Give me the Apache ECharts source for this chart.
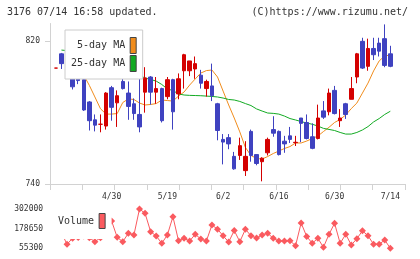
<!DOCTYPE html>
<html>
<head>
<meta charset="utf-8">
<script src="https://cdn.jsdelivr.net/npm/echarts@6.0.0/dist/echarts.min.js"></script>
<style>
  html, body { margin: 0; padding: 0; background: #fff; }
  #chart { width: 420px; height: 259px; }
</style>
</head>
<body>
<div id="chart"></div>
<script>
// trading days, 3176, 4/15 - 7/14
var dates = ['4/15','4/16','4/17','4/18','4/21','4/22','4/23','4/24','4/25','4/28',
  '4/30','5/1','5/2','5/7','5/8','5/9','5/12','5/13','5/14','5/16',
  '5/19','5/20','5/21','5/22','5/23','5/26','5/27','5/28','5/29','5/30',
  '6/2','6/3','6/4','6/5','6/6','6/9','6/10','6/11','6/12','6/13',
  '6/16','6/17','6/18','6/19','6/20','6/23','6/24','6/25','6/26','6/27',
  '6/30','7/1','7/2','7/3','7/4','7/7','7/8','7/9','7/10','7/11','7/14'];

var openPrices = [805, 813, 809, 802, 801, 798.5, 786, 776, 773.5, 772.5,
  794, 785.5, 797.5, 791, 785, 779, 791.5, 800, 791.5, 793.5,
  789, 798.5, 790.5, 803.5, 803.5, 804.5, 801, 793.5, 795, 785,
  765, 766, 755.5, 756, 747.5, 769.5, 756.5, 752.5, 757.5, 770.5,
  769.5, 764, 767, 763.2, 777, 774.5, 766.5, 765.5, 781, 780.5,
  792.5, 775.5, 785, 787.5, 800, 820, 806, 816, 819, 821.5, 813];
var closePrices = [805, 807.5, 801.5, 794.5, 798, 781.5, 775.5, 773, 773.5, 791,
  783, 789.5, 793.5, 783.5, 779.5, 772, 799.5, 791.5, 793.5, 775.5,
  798.5, 780.5, 799, 812.5, 809, 807.5, 796.5, 797.5, 789.5, 770,
  763.5, 762.5, 748.5, 761.5, 755.5, 756, 751.5, 754.5, 765, 768.5,
  756.5, 762.5, 765, 763.4, 774, 765.5, 760, 777, 777.5, 791,
  779.5, 777, 779, 793.5, 813, 805, 816, 812.5, 814.5, 806.5, 806];
var lowPrices = [805, 804.5, 800, 793, 796, 781, 770, 769.5, 769, 770.5,
  775.5, 772, 793, 776, 776, 769, 780, 784.5, 785, 774.5,
  787.5, 770.5, 787.5, 793.5, 800.5, 799, 793.5, 789, 786.5, 764.5,
  751, 759.5, 748, 753.5, 744.5, 752.5, 750.5, 741.5, 756, 766.5,
  756, 757.5, 763, 761.3, 763.5, 765, 759.5, 765, 776.5, 778.5,
  779, 772, 776.5, 787.5, 796.5, 804.5, 803.5, 809.5, 811.5, 805.5, 805.5];
var highPrices = [805, 813.5, 809.5, 807, 804, 799, 786.5, 779, 779, 791.5,
  795, 792.5, 799, 797.5, 788, 811.5, 805.5, 800.5, 800, 794,
  800, 799, 802, 813, 809, 811.5, 804, 798.5, 807.5, 785.5,
  768, 768, 758, 766, 764, 770.5, 756.5, 755, 766, 778,
  770, 767, 772, 767, 777, 779, 774, 784.5, 786.5, 793.5,
  795, 782, 785.5, 800, 813.5, 822, 821.5, 822, 822, 829.5, 817.5];

var ma5 = ['-', '-', 808, 805, 803, 801, 795.3, 788.8, 782.2, 779.2,
  779.2, 779.5, 785.7, 787.7, 787.4, 785.4, 784.3, 784.6, 785.1, 787.1,
  786.8, 786.5, 789.3, 791.6, 795.5, 798.9, 802.2, 803.6, 803.9, 800,
  792.1, 784.3, 777, 769.2, 760.5, 756, 754.3, 754, 755.4, 757.1,
  758.5, 759.9, 761, 763, 763, 764.1, 765.5, 766.9, 769.4, 771.8,
  774.5, 776.2, 778.7, 782.3, 785.4, 791, 796.6, 803.4, 809, 811.8, 812.3];
var ma25 = ['-', 815.1, 814.8, 814.5, 814, 813.4, 812.6, 811.8, 810.7, 809.6,
  808.4, 807, 805.6, 804, 802.5, 801, 799.4, 798.6, 797.7, 795.8,
  793.3, 792.4, 790.5, 789.9, 789.7, 789.6, 789.5, 789.3, 789.1, 788.8,
  788.2, 787.4, 787.1, 786.3, 785.1, 784, 782.1, 780.9, 779.8, 779.6,
  779.2, 778.1, 776.7, 775.9, 775, 774.2, 773.5, 772.5, 771.2, 770.6,
  770, 768.9, 768, 768, 768.9, 770.3, 772.2, 774.8, 776.7, 779, 780.8];

var volumes = [182700, 153200, 80400, 119000, 123100, 132500, 121800, 96700, 121800, 195300,
  226700, 124300, 96700, 149500, 138800, 302000, 275000, 159500, 132500, 86700,
  138800, 253700, 103000, 118100, 101100, 143200, 113700, 101100, 201600, 175200,
  133800, 94800, 167000, 96700, 174600, 133800, 120000, 138800, 149500, 118100,
  101100, 101100, 103000, 71600, 214100, 129400, 86700, 118100, 61600, 143200,
  212200, 86700, 143200, 76000, 115600, 165100, 133800, 81000, 81000, 107400, 55300];

var priceTicks = [740, 820];
var volumeTicks = [55300, 178650, 302000];

var chart = echarts.init(document.getElementById('chart'));
var font = 'DejaVu Sans Mono';
var axisGray = '#d2d2d2';
var textColor = '#333';

var candleData = [];
for (var i = 0; i < dates.length; i++) {
  candleData.push([openPrices[i], closePrices[i], lowPrices[i], highPrices[i]]);
}

function plainNumber(v) {
  return String(v);
}

var option = {
  animation: false,
  title: [
    {text: '3176 07/14 16:58 updated.', left: 7, top: 7, padding: 0,
      textStyle: {fontFamily: font, fontSize: 10, fontWeight: 'normal', color: textColor}},
    {text: '(C)https://www.rizumu.net/', right: 12, top: 7, padding: 0,
      textStyle: {fontFamily: font, fontSize: 10, fontWeight: 'normal', color: textColor}}
  ],
  legend: [
    {
      orient: 'vertical', left: 65, top: 30, align: 'right',
      padding: [7, 6, 7, 6], itemWidth: 6, itemHeight: 16, itemGap: 1,
      backgroundColor: '#fff', borderColor: '#ccc', borderWidth: 1,
      selectedMode: false,
      textStyle: {fontFamily: font, fontSize: 10, color: textColor},
      data: [
        {name: '5-day MA', icon: 'rect', itemStyle: {color: '#f08c1c', borderColor: '#444', borderWidth: 1}},
        {name: '25-day MA', icon: 'rect', itemStyle: {color: '#12aa22', borderColor: '#444', borderWidth: 1}}
      ]
    },
    {
      orient: 'vertical', left: 52, top: 205, align: 'right',
      padding: [8, 6, 10, 6], itemWidth: 6, itemHeight: 15,
      backgroundColor: '#fff', borderWidth: 0,
      selectedMode: false,
      textStyle: {fontFamily: font, fontSize: 10, color: textColor},
      data: [
        {name: 'Volume', icon: 'rect', itemStyle: {color: '#fa5a5f', borderColor: '#444', borderWidth: 1}}
      ]
    }
  ],
  grid: [
    {left: 53.1, right: 26.9, top: 23.5, bottom: 75},
    {left: 50, right: 15, top: 23.5, bottom: 75},
    {left: 53.1, right: 26.9, top: 209, bottom: 10.7}
  ],
  xAxis: [
    {
      type: 'category', gridIndex: 0, data: dates, boundaryGap: true,
      axisLine: {show: false}, axisTick: {show: false},
      axisLabel: {
        interval: function (idx) { return idx > 0 && idx % 10 === 0; },
        margin: 9, fontFamily: font, fontSize: 8, color: textColor
      },
      splitLine: {show: false}
    },
    {
      type: 'value', gridIndex: 1, min: 0, max: 11, interval: 1,
      axisLine: {lineStyle: {color: axisGray}},
      axisTick: {length: 6, lineStyle: {color: axisGray}},
      axisLabel: {show: false}, splitLine: {show: false}
    },
    {type: 'category', gridIndex: 2, data: dates, boundaryGap: true, show: false}
  ],
  yAxis: [
    {type: 'value', gridIndex: 0, min: 740, max: 830, show: false, splitLine: {show: false}},
    {
      type: 'value', gridIndex: 1, min: 740, max: 830,
      axisLine: {show: true, lineStyle: {color: axisGray}},
      axisTick: {show: true, length: 5, customValues: priceTicks, lineStyle: {color: axisGray}},
      axisLabel: {customValues: priceTicks, margin: 10, fontFamily: font, fontSize: 8, color: textColor,
        formatter: plainNumber},
      splitLine: {show: false}
    },
    {
      type: 'value', gridIndex: 2, min: 55300, max: 302000,
      axisLine: {show: false}, axisTick: {show: false},
      axisLabel: {customValues: volumeTicks, margin: 10, fontFamily: font, fontSize: 8, color: textColor,
        formatter: plainNumber},
      splitLine: {show: false}
    }
  ],
  series: [
    {
      name: '5-day MA', type: 'line', xAxisIndex: 0, yAxisIndex: 0,
      data: ma5, symbol: 'none', color: '#f08c1c',
      lineStyle: {width: 1, color: '#f08c1c'}, silent: true, z: 2
    },
    {
      name: '25-day MA', type: 'line', xAxisIndex: 0, yAxisIndex: 0,
      data: ma25, symbol: 'none', color: '#12aa22',
      lineStyle: {width: 1, color: '#12aa22'}, silent: true, z: 2
    },
    {
      name: 'Price', type: 'candlestick', xAxisIndex: 0, yAxisIndex: 0,
      data: candleData, barWidth: 4, silent: true, z: 3,
      itemStyle: {
        color: '#d40000', color0: '#3f42c0',
        borderColor: '#d40000', borderColor0: '#3f42c0', borderWidth: 1
      }
    },
    {
      name: 'Volume', type: 'line', xAxisIndex: 2, yAxisIndex: 2,
      data: volumes, symbol: 'diamond', symbolSize: 7, showAllSymbol: true,
      color: '#fa5a5f', itemStyle: {color: '#fa5a5f'},
      lineStyle: {width: 1, color: '#fa5a5f'}, silent: true
    }
  ]
};

chart.setOption(option);
</script>
</body>
</html>
